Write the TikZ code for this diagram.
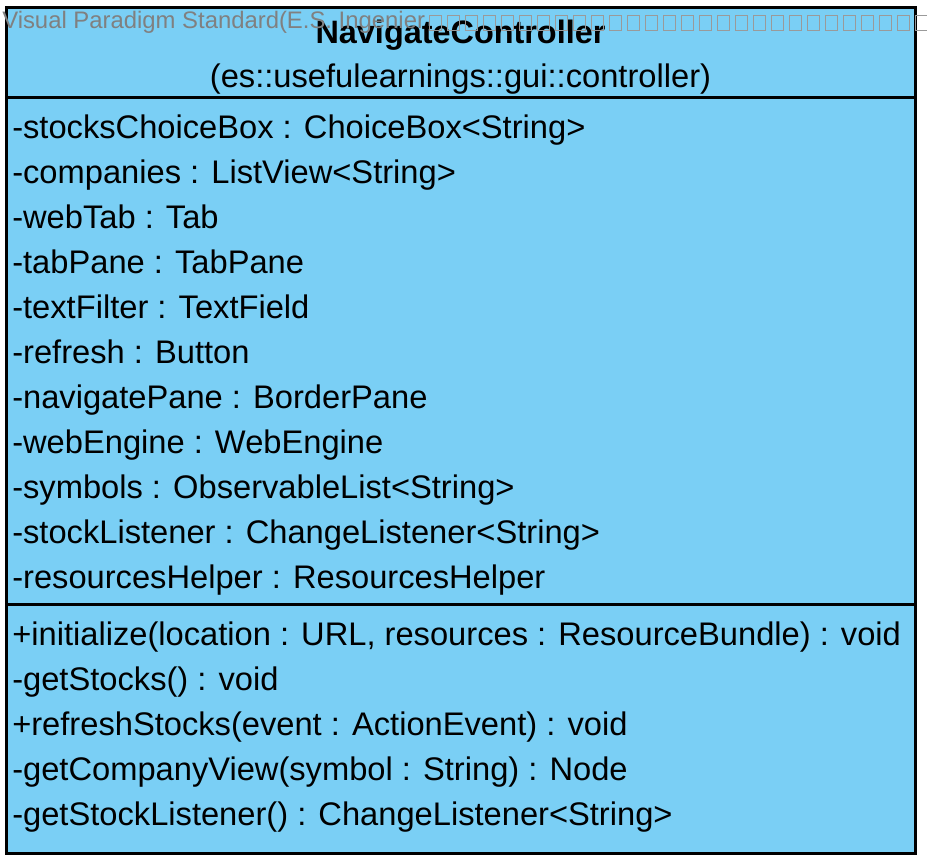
\documentclass[tikz,border=0pt]{standalone}
\usepackage{fontspec}
\setmainfont{Liberation Sans}
\definecolor{classblue}{RGB}{122,207,245}
\definecolor{markgray}{RGB}{128,128,128}
\tikzset{
    member/.style={anchor=base west, inner sep=0pt, font=\fontsize{24.5}{28}\selectfont},
    classline/.style={line width=2.25pt},
}
\begin{document}
\begin{tikzpicture}[x=0.75pt,y=-0.75pt]
            \useasboundingbox (0,0) rectangle (927,864);

            % class box
            \draw[classline,fill=classblue] (6.5,7) rectangle (915,853);
            \draw[classline] (6.5,97) -- (915,97);
            \draw[classline] (6.5,604) -- (915,604);

            \node[anchor=base, inner sep=0pt, font=\bfseries\fontsize{24.3}{28}\selectfont] (title) at (460.5,43) {NavigateController};
            \node[anchor=base, inner sep=0pt, font=\fontsize{24.5}{28}\selectfont] (package) at (460.5,87) {(es::usefulearnings::gui::controller)};

            % attributes
            \foreach \attr [count=\k from 0] in {-stocksChoiceBox : ChoiceBox<String>, -companies : ListView<String>, -webTab : Tab, -tabPane : TabPane, -textFilter : TextField, -refresh : Button, -navigatePane : BorderPane, -webEngine : WebEngine, -symbols : ObservableList<String>, -stockListener : ChangeListener<String>, -resourcesHelper : ResourcesHelper}
                \node[member] (attr\k) at (12,138.5+45*\k) {\attr};

            % operations
            \foreach \op [count=\k from 0] in {{+initialize(location : URL, resources : ResourceBundle) : void}, -getStocks() : void, +refreshStocks(event : ActionEvent) : void, -getCompanyView(symbol : String) : Node, -getStockListener() : ChangeListener<String>}
                \node[member] (op\k) at (12,645.5+45*\k) {\op};

            % watermark
            \node[anchor=base west, inner sep=0pt, text=markgray, font=\fontsize{17.9}{20}\selectfont] (mark) at (2,28) {Visual Paradigm Standard(E.S. Ingenier};
            \foreach \i in {0,...,27}
                \draw[markgray!80, line width=0.6pt] (429+18*\i,15) rectangle ++(12,15);
        \end{tikzpicture}
\end{document}
